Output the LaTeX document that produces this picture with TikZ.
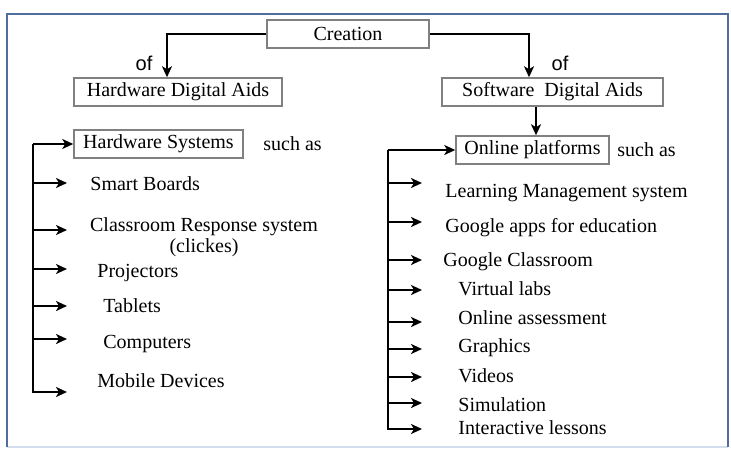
\documentclass[tikz,border=0pt]{standalone}
\usepackage{fontspec}
\setmainfont{Liberation Serif}
\newfontfamily\ofsans{Liberation Sans}
\usepackage{tikz}
\usetikzlibrary{arrows.meta}
\usetikzlibrary{calc}

\definecolor{framec}{RGB}{79,110,158}
\definecolor{framelt}{RGB}{210,222,238}
\definecolor{boxc}{RGB}{128,128,128}

\begin{document}
\begin{tikzpicture}[x=0.5pt,y=-0.5pt,>/.tip={Stealth[length=5.5pt,width=5pt,inset=1.5pt]},
	box/.style={shape=rectangle,draw=boxc,line width=0.75pt,minimum height=14pt,inner sep=0pt},
	item/.style={anchor=west,inner sep=0pt,text height=7pt,text depth=2pt},
	conn/.style={line width=1.1pt}]
	\useasboundingbox (0,0) rectangle (731,449);
	\draw[framelt,line width=1pt] (7,447) -- (728,447);
	\draw[framec,line width=1.2pt] (7,447) -- (7,14) -- (728,14) -- (728,447);
	% boxes
	\draw (348,34) node (cr) [box,minimum width=81pt] {Creation};
	\draw (178,92) node (hda) [box,minimum width=104pt] {Hardware Digital Aids};
	\draw (552.5,92) node (sda) [box,minimum width=110.5pt] {Software\ \ Digital Aids};
	\draw (158.5,144) node (hs) [box,minimum width=84.5pt] {Hardware Systems};
	\draw (532.5,150) node (op) [box,minimum width=76.5pt] {Online platforms};
	\draw (263,145) node (hsa) [item] {such as};
	\draw (617,151) node (opa) [item] {such as};
	\draw (144,63) node (ofh) {\ofsans of};
	\draw (560,63) node (ofs) {\ofsans of};
	\draw[conn,->] (cr.west) -| ($(hda.north)+(-11,0)$);
	\draw[conn,->] (cr.east) -| ($(sda.north)+(-23.5,0)$);
	\draw[conn,->] ($(sda.south)+(-16.5,0)$) -- ($(op.north)+(3.5,0)$);
	% hardware list
	\coordinate (lb) at (33,144);
	\draw (90,185) node (sb) [item] {Smart Boards};
	\draw (204,237) node (crs) [align=center,inner sep=0pt,font=\fontsize{10}{10.5}\selectfont] {Classroom Response system\\(clickes)};
	\draw (97,272) node (pj) [item] {Projectors};
	\draw (103,307) node (tb) [item] {Tablets};
	\draw (103,343) node (cp) [item] {Computers};
	\draw (97,382) node (md) [item] {Mobile Devices};
	\coordinate (sbt) at (67,183);
	\coordinate (crt) at (67,230);
	\coordinate (pjt) at (67,269);
	\coordinate (tbt) at (67,306);
	\coordinate (cpt) at (67,339);
	\coordinate (mdt) at (67,392);
	\draw[conn,->] (lb) -- (hs.west);
	\draw[conn,->] (lb) |- (mdt);
	\draw[conn,->] (lb |- sbt) -- (sbt);
	\draw[conn,->] (lb |- crt) -- (crt);
	\draw[conn,->] (lb |- pjt) -- (pjt);
	\draw[conn,->] (lb |- tbt) -- (tbt);
	\draw[conn,->] (lb |- cpt) -- (cpt);
	% software list
	\coordinate (rb) at (388,150);
	\draw (445,192) node (lms) [item] {Learning Management system};
	\draw (445,227) node (gae) [item] {Google apps for education};
	\draw (443,261) node (gc) [item] {Google Classroom};
	\draw (458,290) node (vl) [item] {Virtual labs};
	\draw (458,319) node (oa) [item] {Online assessment};
	\draw (458,347) node (gr) [item] {Graphics};
	\draw (458,377) node (vd) [item] {Videos};
	\draw (458,406) node (sm) [item] {Simulation};
	\draw (458,429) node (il) [item] {Interactive lessons};
	\coordinate (lmst) at (422,183);
	\coordinate (gaet) at (422,222);
	\coordinate (gct) at (422,260);
	\coordinate (vlt) at (422,290);
	\coordinate (oat) at (422,322);
	\coordinate (grt) at (422,349);
	\coordinate (vdt) at (422,377);
	\coordinate (smt) at (422,403);
	\coordinate (ilt) at (422,429);
	\draw[conn,->] (rb) -- (op.west);
	\draw[conn,->] (rb) |- (ilt);
	\draw[conn,->] (rb |- lmst) -- (lmst);
	\draw[conn,->] (rb |- gaet) -- (gaet);
	\draw[conn,->] (rb |- gct) -- (gct);
	\draw[conn,->] (rb |- vlt) -- (vlt);
	\draw[conn,->] (rb |- oat) -- (oat);
	\draw[conn,->] (rb |- grt) -- (grt);
	\draw[conn,->] (rb |- vdt) -- (vdt);
	\draw[conn,->] (rb |- smt) -- (smt);
\end{tikzpicture}
\end{document}
